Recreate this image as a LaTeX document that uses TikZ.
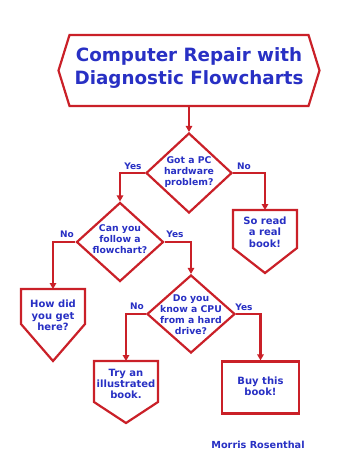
\documentclass[tikz,border=0pt]{standalone}
\usepackage{fontspec}
\setmainfont{DejaVu Sans}
\usetikzlibrary{shapes.geometric,arrows.meta,calc}
\definecolor{chartred}{RGB}{202,32,40}
\definecolor{chartblue}{RGB}{40,48,196}

\begin{document}
\begin{tikzpicture}[x=1pt,y=-1pt,
  edge/.style={draw=chartred, line width=2.2pt, -{Triangle[length=6pt,width=6.5pt]}},
  outline/.style={draw=chartred, line width=2.2pt, line join=miter},
  dia/.style={diamond, draw=chartred, line width=2.2pt, minimum width=86pt, minimum height=80pt, inner sep=0pt},
  body/.style={rectangle, inner sep=0pt, outer sep=0pt, draw=none},
  dtext/.style={text=chartblue, font=\bfseries\fontsize{9.3}{11}\selectfont, align=center, inner sep=0pt},
  btext/.style={text=chartblue, font=\bfseries\fontsize{10}{11.4}\selectfont, align=center, inner sep=0pt},
  answer/.style={text=chartblue, font=\bfseries\fontsize{9}{11}\selectfont, inner sep=0pt},
]
\useasboundingbox[fill=white] (0,0) rectangle (356,475);

% title banner (elongated hexagon)
\node[body, minimum width=239pt, minimum height=71pt] (title) at (189,70.5) {};
\draw[outline] ($(title.west)+(-11,0)$) -- (title.north west) -- (title.north east)
  -- ($(title.east)+(11,0)$) -- (title.south east) -- (title.south west) -- cycle;
\node[text=chartblue, font=\bfseries\fontsize{18.3}{23}\selectfont, align=center, inner sep=0pt]
  (titletext) at (189,68.5) {Computer Repair with\\Diagnostic Flowcharts};

% decisions
\node[dia] (d1) at (189,173) {};
\node[dtext] (d1t) at (189,172.5) {Got a PC\\hardware\\problem?};
\node[dia, minimum width=87pt, minimum height=79pt] (d2) at (120,242) {};
\node[dtext] (d2t) at (120,239.5) {Can you\\follow a\\flowchart?};
\node[dia, minimum width=88pt, minimum height=78pt] (d3) at (191,314) {};
\node[dtext] (d3t) at (191,315) {Do you\\know a CPU\\from a hard\\drive?};

% outcome boxes (pointed at the bottom)
\node[body, minimum width=64pt, minimum height=38pt] (b1) at (265,229) {};
\draw[outline] (b1.north west) -- (b1.north east) -- (b1.south east)
  -- ($(b1.south)+(0,25)$) -- (b1.south west) -- cycle;
\node[btext] (b1t) at (265,232) {So read\\a real\\book!};

\node[body, minimum width=64pt, minimum height=35pt] (b2) at (53,306.5) {};
\draw[outline] (b2.north west) -- (b2.north east) -- (b2.south east)
  -- ($(b2.south)+(0,37)$) -- (b2.south west) -- cycle;
\node[btext] (b2t) at (53,315.5) {How did\\you get\\here?};

\node[body, minimum width=64pt, minimum height=41pt] (b3) at (126,381.5) {};
\draw[outline] (b3.north west) -- (b3.north east) -- (b3.south east)
  -- ($(b3.south)+(0,21)$) -- (b3.south west) -- cycle;
\node[btext] (b3t) at (126,384) {Try an\\illustrated\\book.};

\node[rectangle, draw=chartred, line width=2.2pt, minimum width=77pt, minimum height=52pt, inner sep=0pt]
  (b4) at (260.5,387.5) {};
\node[btext] (b4t) at (260.5,386) {Buy this\\book!};

% connectors
\draw[edge] (title.south) -- (d1.north);
\draw[edge] (d1.west) -| (d2.north);
\draw[edge] (d1.east) -| (b1.north);
\draw[edge] (d2.west) -| (b2.north);
\draw[edge] (d2.east) -| (d3.north);
\draw[edge] (d3.west) -| (b3.north);
\draw[edge] (d3.east) -| (b4.north);

% branch labels
\node[answer] (y1) at (133,166) {Yes};
\node[answer] (n1) at (244,166) {No};
\node[answer] (n2) at (67,234) {No};
\node[answer] (y2) at (175,234) {Yes};
\node[answer] (n3) at (137,306) {No};
\node[answer] (y3) at (244,307) {Yes};

% author
\node[text=chartblue, font=\bfseries\fontsize{9.7}{11}\selectfont, inner sep=0pt] (author) at (258,445) {Morris Rosenthal};
\end{tikzpicture}
\end{document}
